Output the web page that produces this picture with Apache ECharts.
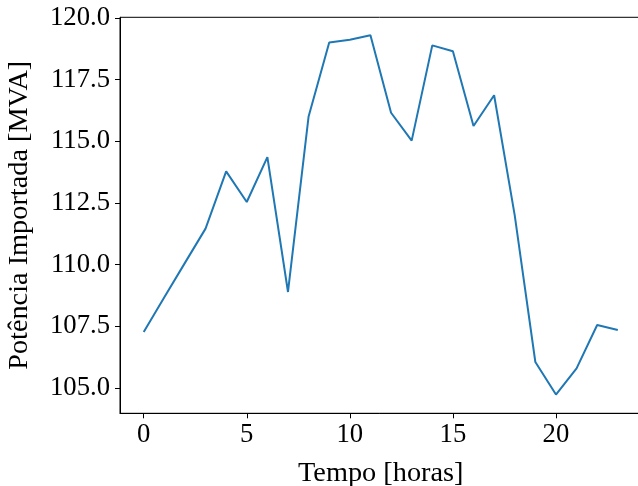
<!DOCTYPE html>
<html>
<head>
<meta charset="utf-8">
<script src="https://cdn.jsdelivr.net/npm/echarts@6/dist/echarts.min.js"></script>
<style>
html,body{margin:0;padding:0;background:#fff;}
#c{width:638px;height:486px;}
</style>
</head>
<body>
<div id="c"></div>
<script>
const hours = [0,1,2,3,4,5,6,7,8,9,10,11,12,13,14,15,16,17,18,19,20,21,22,23];
const power = [107.27,108.68,110.07,111.46,113.78,112.54,114.36,108.89,116.01,119.01,119.12,119.30,116.16,115.03,118.89,118.65,115.62,116.87,112.0,106.05,104.73,105.79,107.55,107.35];
const xTicks = [0,5,10,15,20];
const yTicks = [105,107.5,110,112.5,115,117.5,120];

const font = 'Liberation Serif, "Times New Roman", serif';
const chart = echarts.init(document.getElementById('c'), null, {renderer:'canvas'});
chart.setOption({
  animation:false,
  grid:{left:120, top:17.3, right:-3.5, bottom:72.7, containLabel:false, outerBoundsMode:'none',
        show:true, borderColor:'#000', borderWidth:1},
  xAxis:{
    type:'value', min:-1.15, max:24.15,
    name:'Tempo [horas]', nameLocation:'middle', nameGap:46,
    nameTextStyle:{fontFamily:font, fontSize:28.3, color:'#000'},
    axisLine:{show:true, onZero:false, lineStyle:{color:'#000', width:1}},
    axisTick:{show:true, inside:false, length:5, lineStyle:{color:'#000'}, customValues:xTicks},
    axisLabel:{show:true, margin:8, fontFamily:font, fontSize:26.7, color:'#000', customValues:xTicks},
    splitLine:{show:false}
  },
  yAxis:{
    type:'value', min:103.97, max:120.03,
    name:'Potência Importada [MVA]', nameLocation:'middle', nameGap:86, nameRotate:90,
    nameTextStyle:{fontFamily:font, fontSize:28.3, color:'#000'},
    axisLine:{show:true, onZero:false, lineStyle:{color:'#000', width:1}},
    axisTick:{show:true, inside:false, length:5, lineStyle:{color:'#000'}, customValues:yTicks},
    axisLabel:{show:true, margin:10, fontFamily:font, fontSize:26.7, color:'#000', customValues:yTicks,
      formatter:v=>Number(v).toFixed(1)},
    splitLine:{show:false}
  },
  series:[{
    type:'line',
    data:hours.map((h,i)=>[h,power[i]]),
    showSymbol:false,
    lineStyle:{color:'#1f77b4', width:2},
    itemStyle:{color:'#1f77b4'}
  }]
});
</script>
</body>
</html>
